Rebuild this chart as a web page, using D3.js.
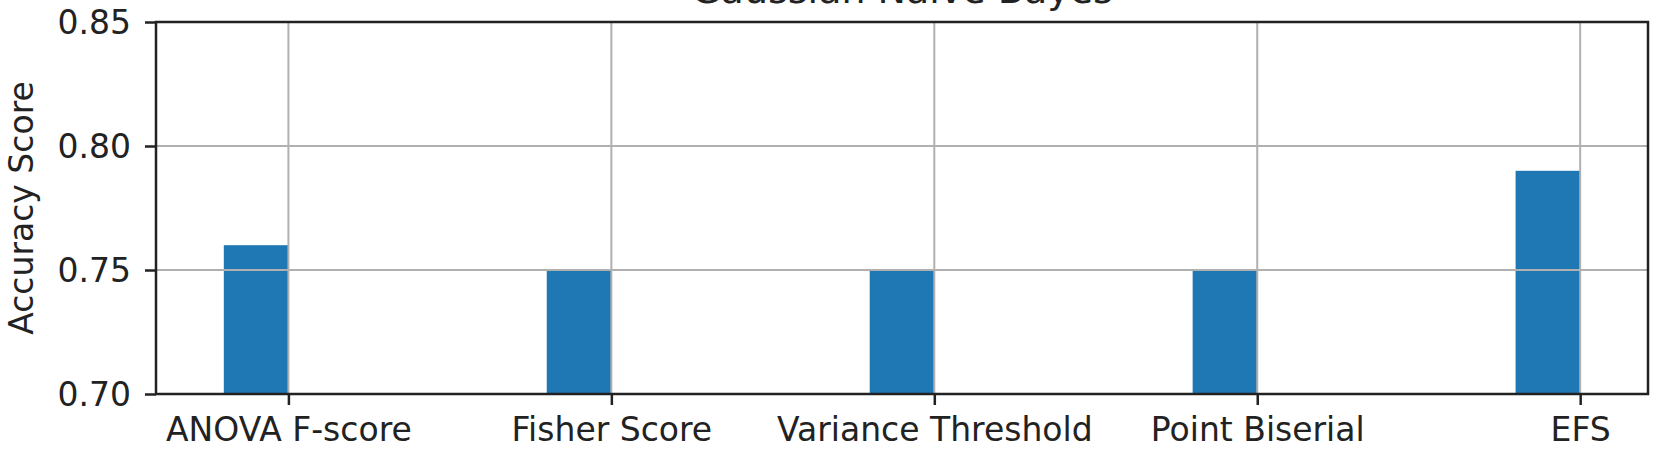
<!DOCTYPE html>
<html>
<head>
<meta charset="utf-8">
<script src="https://cdn.jsdelivr.net/npm/d3@7"></script>
<style>
  body { margin: 0; background: #fff; }
  text { font-family: "DejaVu Sans", sans-serif; fill: #222; }
</style>
</head>
<body>
<svg id="chart" width="1663" height="457"></svg>
<script>
const methods = ["ANOVA F-score", "Fisher Score", "Variance Threshold", "Point Biserial", "EFS"]
const accuracy = [0.76, 0.75, 0.75, 0.75, 0.79]
const yTicks = [0.70, 0.75, 0.80, 0.85]
const title = "Gaussian Naive Bayes"

const margin = {top: 22, right: 15, bottom: 63, left: 156}
const width = 1663
const height = 457
const barWidth = 0.2

const svg = d3.select("#chart")

// matplotlib style limits: bars span [-0.2, 4], plus 5% margin
const x = d3.scaleLinear()
  .domain([-0.41, 4.21])
  .range([margin.left, width - margin.right])

const y = d3.scaleLinear()
  .domain([0.70, 0.85])
  .range([height - margin.bottom, margin.top])

// bars (edge aligned, negative width -> left of the tick)
svg.append("g")
  .selectAll("rect")
  .data(accuracy)
  .enter()
  .append("rect")
    .attr("x", (d, i) => x(i - barWidth))
    .attr("width", (d, i) => x(i) - x(i - barWidth))
    .attr("y", d => y(d))
    .attr("height", d => y(0.70) - y(d))
    .attr("fill", "#1f77b4")

// grid on top of bars
const grid = svg.append("g")
grid.selectAll(".vgrid")
  .data(methods)
  .enter()
  .append("line")
    .attr("x1", (d, i) => x(i))
    .attr("x2", (d, i) => x(i))
    .attr("y1", y(0.85))
    .attr("y2", y(0.70))
    .attr("stroke", "#b0b0b0")
    .attr("stroke-width", 2)
grid.selectAll(".hgrid")
  .data(yTicks)
  .enter()
  .append("line")
    .attr("x1", x.range()[0])
    .attr("x2", x.range()[1])
    .attr("y1", d => y(d))
    .attr("y2", d => y(d))
    .attr("stroke", "#b0b0b0")
    .attr("stroke-width", 2)

// axes
const xAxis = svg.append("g")
  .attr("transform", "translate(0," + y(0.70) + ")")
  .call(d3.axisBottom(x)
    .tickValues(d3.range(methods.length))
    .tickFormat(i => methods[i])
    .tickSize(11)
    .tickPadding(11)
    .tickSizeOuter(0))
xAxis.select(".domain").remove()
xAxis.selectAll("line").attr("stroke", "#222").attr("stroke-width", 2.5)
xAxis.selectAll("text")
  .attr("font-size", "33px")
  .attr("font-family", "'DejaVu Sans', sans-serif")
  .attr("fill", "#222")
  .attr("dy", "0.76em")

const yAxis = svg.append("g")
  .attr("transform", "translate(" + margin.left + ",0)")
  .call(d3.axisLeft(y)
    .tickValues(yTicks)
    .tickFormat(d3.format(".2f"))
    .tickSize(11)
    .tickPadding(14)
    .tickSizeOuter(0))
yAxis.select(".domain").remove()
yAxis.selectAll("line").attr("stroke", "#222").attr("stroke-width", 2.5)
yAxis.selectAll("text")
  .attr("font-size", "33px")
  .attr("font-family", "'DejaVu Sans', sans-serif")
  .attr("fill", "#222")
  .attr("dy", "0.36em")

// frame
svg.append("rect")
  .attr("x", x.range()[0])
  .attr("y", y(0.85))
  .attr("width", x.range()[1] - x.range()[0])
  .attr("height", y(0.70) - y(0.85))
  .attr("fill", "none")
  .attr("stroke", "#222")
  .attr("stroke-width", 2.5)

// labels
svg.append("text")
  .attr("transform", "translate(33," + (margin.top + height - margin.bottom) / 2 + ") rotate(-90)")
  .attr("text-anchor", "middle")
  .attr("font-size", "33px")
  .text("Accuracy Score")

svg.append("text")
  .attr("x", (x.range()[0] + x.range()[1]) / 2)
  .attr("y", 3)
  .attr("text-anchor", "middle")
  .attr("font-size", "38px")
  .text(title)
</script>
</body>
</html>
